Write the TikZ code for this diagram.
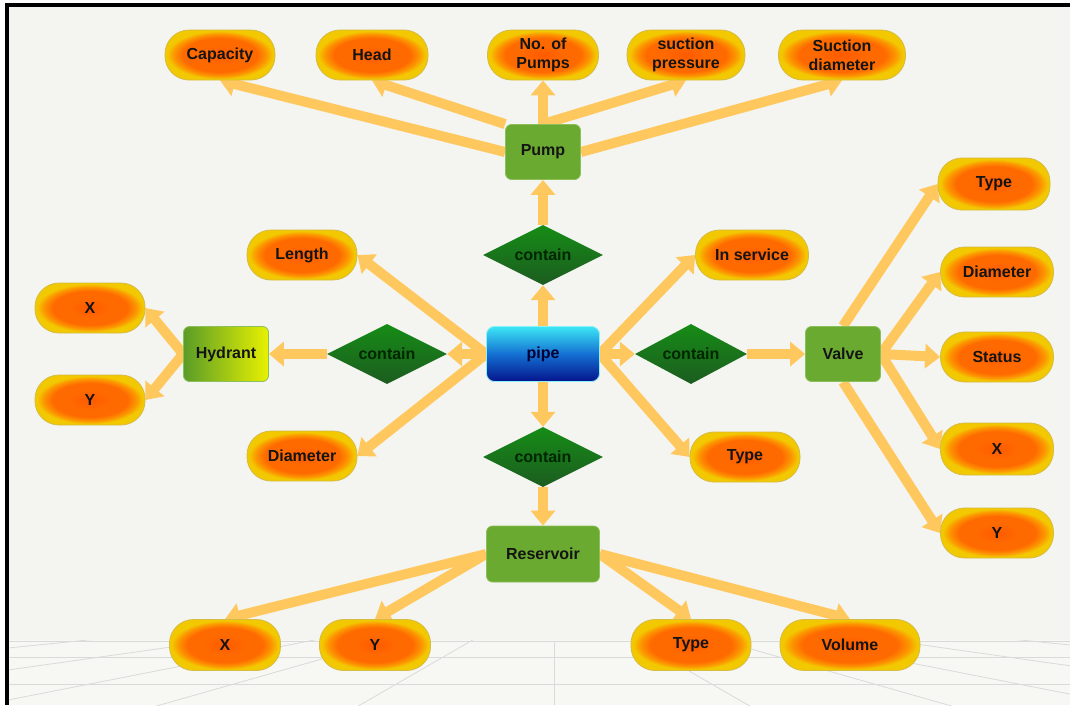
\documentclass[tikz,border=0pt]{standalone}
\usepackage{fontspec}
\setmainfont{Liberation Sans}
\usetikzlibrary{shapes.geometric,arrows.meta,backgrounds,calc}
\pgfdeclarelayer{bgzero}
\pgfsetlayers{bgzero,background,main}
\definecolor{bgcol}{RGB}{244,245,240}
\definecolor{floorcol}{RGB}{247,247,244}
\definecolor{gridcol}{RGB}{218,218,216}
\definecolor{pillcore}{RGB}{255,90,0}
\definecolor{pillor}{RGB}{255,106,0}
\definecolor{pillmid}{RGB}{252,150,0}
\definecolor{pilly}{RGB}{242,200,0}
\definecolor{pillborder}{RGB}{212,188,70}
\definecolor{arrcol}{RGB}{255,200,95}
\definecolor{entgreen}{RGB}{106,170,48}
\definecolor{entborder}{RGB}{140,190,90}
\definecolor{relTop}{RGB}{22,140,22}
\definecolor{relBot}{RGB}{28,92,32}
\definecolor{hydA}{RGB}{90,156,40}
\definecolor{hydB}{RGB}{232,242,0}
\definecolor{pipeTop}{RGB}{60,230,245}
\definecolor{pipeMid}{RGB}{20,112,210}
\definecolor{pipeBot}{RGB}{6,20,140}
\definecolor{txt}{RGB}{20,20,20}
\pgfdeclareradialshading{pillshade}{\pgfpoint{0bp}{0bp}}{color(0bp)=(pillcore); color(10bp)=(pillor); color(17bp)=(pillor); color(21bp)=(pillmid); color(24bp)=(pilly); color(50bp)=(pilly)}
\tikzset{
  lbl/.style={font=\fontsize{16}{19}\selectfont\bfseries, text=txt, align=center},
  attr/.style={lbl, rectangle, rounded corners=24pt, minimum width=110pt, minimum height=50pt, inner sep=0pt, shading=pillshade, draw=pillborder, line width=0.8pt},
  ent/.style={lbl, rectangle, rounded corners=6pt, fill=entgreen, draw=entborder, line width=0.8pt, minimum width=75pt, minimum height=55pt, inner sep=0pt},
  rel/.style={lbl, diamond, aspect=2, inner sep=0pt, minimum width=120pt, minimum height=60pt, top color=relTop, bottom color=relBot, text=black!85!green},
  conn/.style={line width=10pt, draw=arrcol, -{Triangle[width=24pt,length=15pt]}},
  floorline/.style={draw=gridcol, line width=0.8pt}
}
\begin{document}
\begin{tikzpicture}[x=1pt,y=-1pt]
\useasboundingbox (0,0) rectangle (1070,705);
% background
\begin{pgfonlayer}{bgzero}
\fill[white] (0,0) rectangle (1070,705);
\fill[bgcol] (8,5) rectangle (1070,705);
\fill[floorcol] (8,640) rectangle (1070,705);
\begin{scope}
  \clip (8,640) rectangle (1070,705);
  \coordinate (V) at (554,593);
  \foreach \px/\py in {8/648,8/670,8/700,160/705,360/705,1100/648,1100/670,1100/700,948/705,748/705}{
    \draw[floorline] (V) -- ($(V)!4!(\px,\py)$);
  }
  \draw[floorline] (8,641) -- (1070,641);
  \draw[floorline] (8,657) -- (1070,657);
  \draw[floorline] (8,684) -- (1070,684);
  \draw[floorline] (554,641) -- (554,705);
\end{scope}
\fill[black] (5,3) rectangle (1070,6.5);
\fill[black] (5,3) rectangle (8.5,705);
\end{pgfonlayer}

% top pills
\node[attr] (cap) at (220,55) {Capacity};
\node[attr, minimum width=112pt] (head) at (372,55) {Head};
\node[attr, minimum width=111pt] (nop) at (543,55) {No. of\\Pumps};
\node[attr, minimum width=118pt] (sp) at (686,55) {suction\\pressure};
\node[attr, minimum width=127pt] (sd) at (842,55) {Suction\\diameter};
\node[ent] (pump) at (543,152) {Pump};
\node[rel] (cT) at (543,255) {contain};
% middle
\node[attr] (len) at (302,255) {Length};
\node[attr, minimum width=113pt] (ins) at (752,255) {In service};
\node[attr, minimum width=112pt, minimum height=52pt] (vt) at (994,184) {Type};
\node[attr, minimum width=113pt] (vd) at (997,272) {Diameter};
\node[attr, minimum width=113pt] (vs) at (997,357) {Status};
\node[attr, minimum width=113pt, minimum height=52pt] (vx) at (997,449) {X};
\node[attr, minimum width=113pt] (vy) at (997,533) {Y};
\node[attr] (hx) at (90,308) {X};
\node[attr] (hy) at (90,400) {Y};
\node[ent, minimum width=85pt, left color=hydA, right color=hydB] (hyd) at (226,354) {Hydrant};
\node[rel] (cL) at (387,354) {contain};
\node[ent, minimum width=113pt, rounded corners=8pt, draw=pipeTop!60!white, top color=pipeTop, bottom color=pipeBot, middle color=pipeMid, text=black!80!blue] (pipe) at (543,354) {pipe};
\node[rel, minimum width=112pt] (cR) at (691,354) {contain};
\node[ent] (valve) at (843,354) {Valve};
\node[attr] (diam) at (302,456) {Diameter};
\node[attr] (ptype) at (745,457) {Type};
\node[rel] (cB) at (543,457) {contain};
\node[ent, minimum width=113pt, minimum height=56pt] (res) at (543,554) {Reservoir};
% bottom pills
\node[attr, minimum width=111pt, minimum height=51pt] (rx) at (225,645) {X};
\node[attr, minimum width=111pt, minimum height=51pt] (ry) at (375,645) {Y};
\node[attr, minimum width=120pt, minimum height=51pt] (rt) at (691,645) {Type};
\node[attr, minimum width=140pt, minimum height=51pt] (rv) at (850,645) {Volume};

% connectors
\begin{scope}[on background layer]
  \draw[conn] (pump.west) -- (cap.south);
  \draw[conn] (pump.north west) -- (head.south);
  \draw[conn] (pump.north) -- (nop.south);
  \draw[conn] (pump.north) -- (sp.south);
  \draw[conn] (pump.east) -- (sd.south);
  \draw[conn] (cT.north) -- (pump.south);
  \draw[conn] (pipe.north) -- (cT.south);
  \draw[conn] (pipe.west) -- (len.east);
  \draw[conn] (pipe.west) -- (cL.east);
  \draw[conn] (cL.west) -- (hyd.east);
  \draw[conn] (pipe.west) -- (diam.east);
  \draw[conn] (hyd.west) -- (hx.east);
  \draw[conn] (hyd.west) -- (hy.east);
  \draw[conn] (pipe.east) -- (ins.west);
  \draw[conn] (pipe.east) -- (cR.west);
  \draw[conn] (cR.east) -- (valve.west);
  \draw[conn] (pipe.east) -- (ptype.west);
  \draw[conn] (pipe.south) -- (cB.north);
  \draw[conn] (cB.south) -- (res.north);
  \draw[conn] (valve.north) -- (vt.west);
  \draw[conn] (valve.east) -- (vd.west);
  \draw[conn] (valve.east) -- (vs.west);
  \draw[conn] (valve.east) -- (vx.west);
  \draw[conn] (valve.south) -- (vy.west);
  \draw[conn] (res.west) -- (rx.north);
  \draw[conn] (res.west) -- (ry.north);
  \draw[conn] (res.east) -- (rt.north);
  \draw[conn] (res.east) -- (rv.north);
\end{scope}
\end{tikzpicture}
\end{document}
